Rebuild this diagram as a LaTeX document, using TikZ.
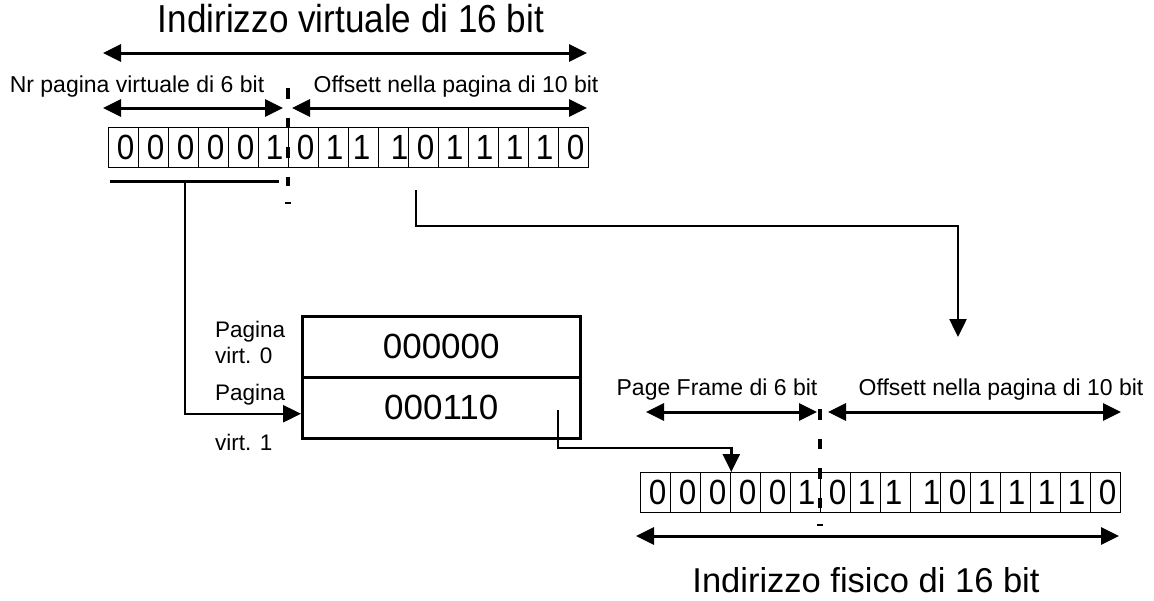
\documentclass[tikz,border=0pt]{standalone}
\usepackage{fontspec}
\setmainfont{Liberation Sans}
\newfontfamily\narrowsans[FakeStretch=0.9]{Liberation Sans}
\usetikzlibrary{arrows.meta,calc}

\begin{document}
\begin{tikzpicture}[x=1pt,y=-1pt,
  tipend/.style={-{Triangle[length=18pt,width=17pt]}},
  twoway/.style={{Triangle[length=18pt,width=17pt]}-{Triangle[length=18pt,width=17pt]}, line width=3pt},
  conn/.style={line width=2.5pt},
  bitcell/.style={draw, line width=1.3pt, minimum width=30pt, minimum height=40pt,
    inner sep=0pt, anchor=north west},
  bitdigit/.style={inner sep=0pt, font=\narrowsans\fontsize{35}{35}\selectfont},
  toptitle/.style={inner sep=0pt, font=\narrowsans\fontsize{39}{39}\selectfont},
  bottitle/.style={inner sep=0pt, font=\fontsize{34.5}{34.5}\selectfont},
  lab/.style={inner sep=0pt, anchor=base, font=\fontsize{23}{23}\selectfont},
  side/.style={inner sep=0pt, anchor=base west, font=\fontsize{22.5}{22.5}\selectfont},
  split/.style={line width=4.5pt, dash pattern=on 10.5pt off 19pt},
  tick/.style={line width=1.5pt},
  tablerow/.style={draw, line width=2.5pt, minimum width=278pt, inner sep=0pt,
    anchor=north west, font=\fontsize{35}{35}\selectfont}
]
\useasboundingbox (0,0) rectangle (1154,600);

% ---------- virtual address ----------
\node[toptitle] (vtitle) at (351,19) {Indirizzo virtuale di 16 bit};
\coordinate (vl) at (103,53);
\coordinate (vr) at (587,53);
\draw[twoway] (vl) -- (vr);

\node[lab] (vpage) at (137,92) {Nr pagina virtuale di 6 bit};
\node[lab] (voff) at (456,92) {Offsett nella pagina di 10 bit};
\coordinate (vpl) at (103,108);
\coordinate (vpr) at (283,108);
\coordinate (vol) at (292,108);
\coordinate (vor) at (587,108);
\draw[twoway] (vpl) -- (vpr);
\draw[twoway] (vol) -- (vor);

\foreach \b/\dx [count=\i] in {0/2,0/2,0/2,0/2,0/2,1/1,0/2,1/1,1/-2,1/6,0/2,1/1,1/1,1/1,1/1,0/2} {
  \node[bitcell] (v\i) at ({108+30*(\i-1)},127) {};
  \node[bitdigit] at ($(v\i.center)+(\dx,0)$) {\b};
}

\coordinate (vsplittop) at (288,88);
\coordinate (vsplitbot) at (288,186);
\draw[split] (vsplittop) -- (vsplitbot);
\draw[tick] (285,203) -- (291,203);

% page number bits feed the page table
\coordinate (ula) at (110,181);
\coordinate (ulb) at (279,181);
\coordinate (ulm) at (185,181);
\draw[line width=3pt] (ula) -- (ulb);

% ---------- page table ----------
\node[tablerow, minimum height=61pt] (row0) at (301,315) {000000};
\node[tablerow, minimum height=61pt] (row1) at (301,376) {000110};

\node[side] (p0a) at (215,337) {Pagina};
\node[side] (p0b) at (215,363) {virt. 0};
\node[side] (p1a) at (215,400) {Pagina};
\node[side] (p1b) at (215,450) {virt. 1};

\coordinate (row1in) at ($(row1.west)+(0,6)$);
\draw[conn, tipend] (ulm) |- (row1in);

% offset bits go straight to the physical address
\coordinate (offsrc) at (416,190);
\coordinate (offdst) at (958,337);
\draw[conn, tipend] (offsrc) -- (416,226) -| (offdst);

% ---------- physical address ----------
\node[lab] (ppage) at (717,395) {Page Frame di 6 bit};
\node[lab] (poff) at (1001,395) {Offsett nella pagina di 10 bit};
\coordinate (ppl) at (646,412);
\coordinate (ppr) at (817,412);
\coordinate (pol) at (828,412);
\coordinate (por) at (1121,412);
\draw[twoway] (ppl) -- (ppr);
\draw[twoway] (pol) -- (por);

\foreach \b/\dx [count=\i] in {0/2,0/2,0/2,0/2,0/2,1/1,0/2,1/1,1/-2,1/6,0/2,1/1,1/1,1/1,1/1,0/2} {
  \node[bitcell] (p\i) at ({640+30*(\i-1)},472) {};
  \node[bitdigit] at ($(p\i.center)+(\dx,0)$) {\b};
}

\coordinate (psplittop) at (820,409);
\coordinate (psplitbot) at (820,510);
\draw[split] (psplittop) -- (psplitbot);
\draw[tick] (817,525) -- (823,525);

% frame number from the page table
\coordinate (framesrc) at (558,410);
\draw[conn, tipend] (framesrc) -- (558,448) -| (p3.north east);

\coordinate (pl) at (636,536);
\coordinate (pr) at (1119,536);
\draw[twoway] (pl) -- (pr);
\node[bottitle] (ptitle) at (866,580) {Indirizzo fisico di 16 bit};
\end{tikzpicture}
\end{document}
